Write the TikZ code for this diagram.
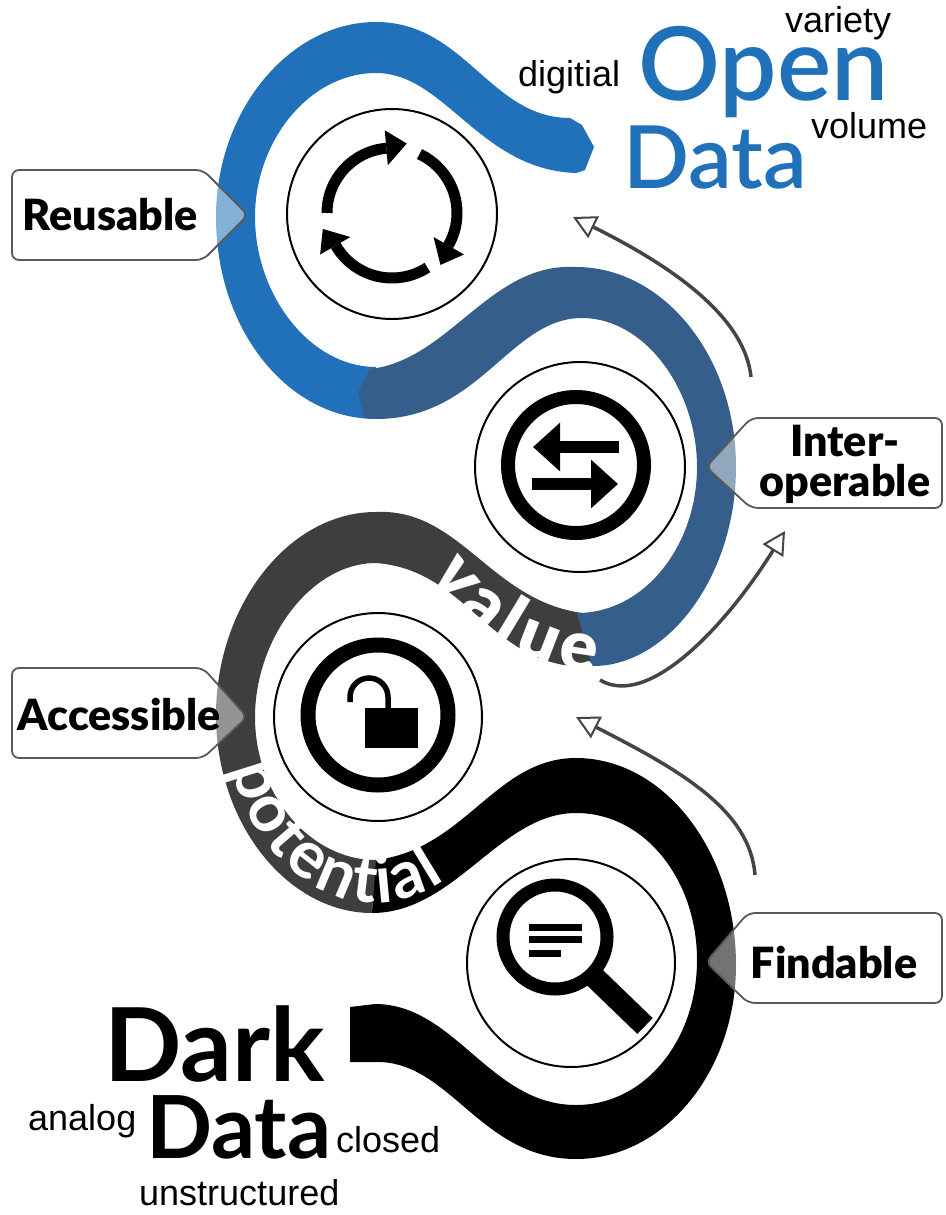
\documentclass[tikz,border=0pt]{standalone}
\usepackage{fontspec}
\setmainfont{Lato}
\newfontfamily\heavyfont{Lato Black}
\newfontfamily\midfont{Lato Semibold}
\newfontfamily\wordfont{Liberation Sans}
\usetikzlibrary{arrows.meta,decorations.text}
\definecolor{openblue}{HTML}{2071B9}
\definecolor{interblue}{HTML}{355F8A}
\definecolor{accessgray}{HTML}{3C3F3C}
\definecolor{arrowgray}{HTML}{444444}
\tikzset{
  iconcircle/.style={draw=black,line width=2pt},
  tagbox/.style={draw=black!65,line width=1.8pt,rounded corners=7pt,fill=white,fill opacity=.45},
  taglabel/.style={font=\heavyfont\fontsize{43}{40}\selectfont,align=center,inner sep=0pt},
  bigword/.style={anchor=base west,inner sep=0pt,font=\midfont\fontsize{#1}{#1}\selectfont},
  darkword/.style={anchor=base west,inner sep=0pt,font=\bfseries\fontsize{#1}{#1}\selectfont},
  smallword/.style={anchor=base west,inner sep=0pt,font=\wordfont\fontsize{36}{36}\selectfont},
  flowarrow/.style={draw=arrowgray,line width=3.5pt,-{Triangle[open,fill=white,length=23pt,width=24pt,line width=2pt]}},
  swaparrow/.style={line width=12pt,-{Triangle[length=27pt,width=47pt]}}
}
\begin{document}
\begin{tikzpicture}[x=1pt,y=-1pt]
\useasboundingbox (0,0) rectangle (945,1215);
% bands
\fill[black] (350,1007) -- (375,1004) .. controls (455,1004) and (490,1105) .. (576,1105)
  .. controls (645,1105) and (697,1040) .. (697,960) .. controls (697,880) and (645,813) .. (576,813)
  .. controls (500,813) and (455,913) .. (372,913) -- (375,860)
  .. controls (465,850) and (495,758) .. (576,758) .. controls (664,758) and (736,851) .. (736,965)
  .. controls (736,1072) and (664,1159) .. (576,1159) .. controls (480,1159) and (450,1060) .. (375,1062)
  -- (350,1062) -- cycle;
\fill[accessgray] (372,913) .. controls (288,913) and (216,824) .. (216,715)
  .. controls (216,606) and (288,512) .. (376,512) .. controls (460,508) and (490,600) .. (582,613)
  -- (592,667) .. controls (490,670) and (470,570) .. (376,563)
  .. controls (310,563) and (255,640) .. (255,717) .. controls (255,795) and (310,860) .. (376,860) -- cycle;
\fill[openblue] (570,118) .. controls (490,118) and (465,22) .. (376,22)
  .. controls (290,22) and (216,110) .. (216,217) .. controls (216,330) and (288,419) .. (376,419)
  -- (376,367) .. controls (310,367) and (255,295) .. (255,217)
  .. controls (255,140) and (310,73) .. (376,73) .. controls (445,73) and (480,170) .. (576,173)
  -- (585,170) -- (594,147) -- (582,125) -- cycle;
\fill[interblue] (370,369) .. controls (450,360) and (490,262) .. (576,267)
  .. controls (664,267) and (736,357) .. (736,467) .. controls (736,577) and (667,667) .. (592,666)
  -- (577,613) .. controls (645,613) and (697,545) .. (697,467) .. controls (697,390) and (645,318) .. (582,318)
  .. controls (510,318) and (480,419) .. (376,419) -- (364,418) -- (358,392) -- cycle;
% words on the bands
\path[decorate,decoration={text along path,text align={fit to path},text={|\heavyfont\fontsize{70}{70}\selectfont\color{white}|value}}]
  (430,575) .. controls (470,635) and (530,668) .. (595,672);
\path[decorate,decoration={text along path,text align={fit to path},text={|\bfseries\fontsize{66}{66}\selectfont\color{white}|potential}}]
  (232,768) .. controls (250,860) and (350,945) .. (445,880);
% tags
\draw[tagbox] (12,170) -- (203,170) -- (248,215) -- (203,260) -- (12,260) -- cycle;
\draw[tagbox] (942,418) -- (751,418) -- (706,467) -- (751,508) -- (942,508) -- cycle;
\draw[tagbox] (12,668) -- (203,668) -- (247,717) -- (203,758) -- (12,758) -- cycle;
\draw[tagbox] (942,913) -- (748,913) -- (706,962) -- (748,1003) -- (942,1003) -- cycle;
\node[taglabel] (reusable) at (110,215) {Reusable};
\node[taglabel] (inter) at (845,464) {Inter-\\operable};
\node[taglabel] (accessible) at (119,715) {Accessible};
\node[taglabel] (findable) at (834,963) {Findable};
% circles
\draw[iconcircle] (392,214) circle (105);
\draw[iconcircle] (580,467) circle (105);
\draw[iconcircle] (378,717) circle (104);
\draw[iconcircle] (571,963) circle (104);
% reuse icon
\foreach \from/\to in {-180/-95,-65/30,57/150}{
  \draw[line width=11pt] (392,213) ++(\from:65) arc[start angle=\from,end angle=\to,radius=65];
  \fill[shift={(392,213)}] (\to:83) -- (\to+17:71) -- (\to:48) -- cycle;
}
% swap icon
\draw[line width=14pt] (576,465) circle (68);
\draw[swaparrow] (619,447) -- (533,447);
\draw[swaparrow] (532,484) -- (618,484);
% lock icon
\draw[line width=15pt] (378,715) circle (70);
\fill (365,708) rectangle (418,748);
\draw[line width=5.5pt] (350,702) -- (350,697) arc[start angle=180,end angle=360,radius=19] -- (388,710);
% search icon
\draw[line width=13pt] (555,937) circle (52);
\draw[line width=22pt] (587,970) -- (645,1026);
\fill (529,924) rectangle (582,931);
\fill (529,936) rectangle (582,943);
\fill (529,950) rectangle (561,957);
% flow arrows
\coordinate (findstart) at (755,875);
\coordinate (findend) at (576,717);
\coordinate (accstart) at (600,680);
\coordinate (accend) at (785,531);
\coordinate (interstart) at (751,377);
\coordinate (interend) at (573,217);
\draw[flowarrow] (findstart) .. controls (750,810) and (680,770) .. (findend);
\draw[flowarrow] (accstart) .. controls (650,710) and (730,620) .. (accend);
\draw[flowarrow] (interstart) .. controls (745,320) and (680,270) .. (interend);
% words
\node[bigword=102,text=openblue] (open) at (638,100) {Open};
\node[bigword=87,text=openblue] (data) at (623,188) {Data};
\node[smallword] (digitial) at (518,86) {digitial};
\node[smallword] (variety) at (785,33) {variety};
\node[smallword] (volume) at (811,138) {volume};
\node[darkword=102] (dark) at (104,1081) {Dark};
\node[darkword=87] (darkdata) at (146,1158) {Data};
\node[smallword] (analog) at (28,1130) {analog};
\node[smallword] (closed) at (336,1152) {closed};
\node[smallword] (unstructured) at (139,1205) {unstructured};
\end{tikzpicture}
\end{document}
